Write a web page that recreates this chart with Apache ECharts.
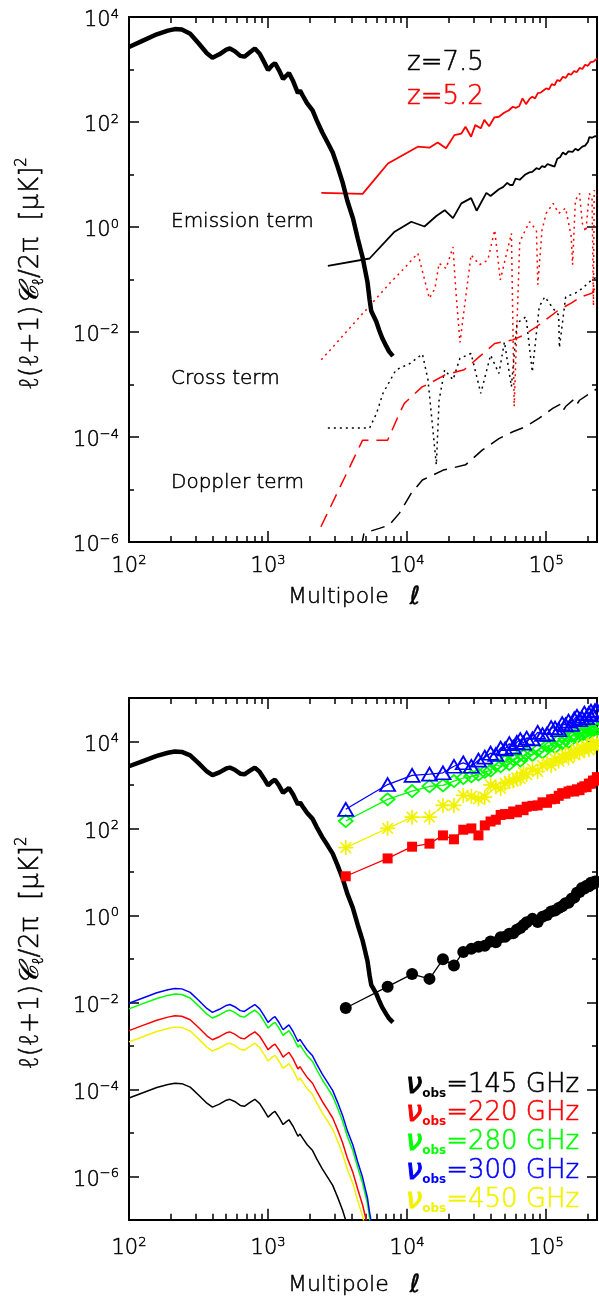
<!DOCTYPE html>
<html><head><meta charset="utf-8">
<script src="https://cdn.jsdelivr.net/npm/echarts@6/dist/echarts.min.js"></script>
<style>html,body{margin:0;padding:0;background:#fff}#c{width:599px;height:1299px}</style>
</head><body><div id="c"></div>
<script>
// ---------- DATA (x = log10 multipole, y = log10 of l(l+1)C_l/2pi in muK^2) ----------
const cmbL = [2.00,2.10,2.20,2.28,2.33,2.38,2.44,2.50,2.56,2.60,2.65,2.70,2.725,2.76,2.80,2.83,2.87,2.905,2.94,2.97,3.00,3.03,3.05,3.08,3.108,3.13,3.15,3.18,3.215,3.23,3.25,3.28,3.32,3.35,3.39,3.43,3.465,3.50,3.536,3.57,3.61,3.645,3.68,3.70,3.715,3.73,3.742,3.778,3.80,3.82,3.85,3.87,3.898];
const cmbC = [3.43,3.55,3.67,3.74,3.77,3.76,3.68,3.50,3.31,3.225,3.29,3.38,3.40,3.35,3.26,3.245,3.33,3.40,3.30,3.15,2.99,3.08,3.12,2.98,2.82,2.88,2.93,2.78,2.55,2.60,2.50,2.36,2.22,2.03,1.80,1.60,1.42,1.15,0.85,0.50,0.17,-0.22,-0.58,-0.85,-1.05,-1.38,-1.60,-1.80,-1.97,-2.11,-2.27,-2.37,-2.46];

const emis52L = [3.383,3.68,3.862,4.077,4.16,4.22,4.28,4.34,4.39,4.42,4.46,4.49,4.53,4.555,4.59,4.628,4.66,4.70,4.73,4.76,4.78,4.806,4.83,4.855,4.88,4.90,4.92,4.94,4.96,4.98,5.00,5.02,5.04,5.06,5.08,5.10,5.12,5.14,5.16,5.18,5.20,5.22,5.24,5.26,5.28,5.30,5.32,5.34,5.366];
const emis52C = [0.65,0.63,1.21,1.53,1.51,1.61,1.50,1.75,1.78,1.91,1.72,1.94,1.88,2.04,1.92,2.09,2.10,2.18,2.22,2.29,2.27,2.30,2.45,2.34,2.44,2.48,2.45,2.55,2.56,2.60,2.64,2.62,2.72,2.70,2.80,2.78,2.86,2.84,2.92,2.90,2.97,2.95,3.03,3.01,3.09,3.07,3.14,3.15,3.21];

const emis75L = [3.43,3.73,3.91,4.03,4.125,4.21,4.27,4.33,4.39,4.46,4.50,4.57,4.60,4.66,4.69,4.72,4.74,4.76,4.78,4.81,4.83,4.85,4.88,4.90,4.93,4.95,4.97,4.99,5.01,5.03,5.06,5.08,5.10,5.12,5.14,5.16,5.19,5.21,5.23,5.26,5.28,5.30,5.31,5.33,5.35,5.366];
const emis75C = [-0.74,-0.60,-0.09,0.10,0.01,0.21,0.32,0.17,0.45,0.55,0.31,0.65,0.59,0.72,0.76,0.84,0.80,0.80,0.92,0.90,0.95,1.00,1.04,1.05,1.12,1.10,1.16,1.14,1.20,1.18,1.15,1.30,1.33,1.42,1.38,1.44,1.43,1.49,1.46,1.53,1.55,1.62,1.71,1.70,1.73,1.72];

const cross52L = [3.383,3.886,3.957,4.077,4.16,4.20,4.23,4.28,4.33,4.35,4.38,4.46,4.52,4.58,4.63,4.67,4.75,4.77,4.81,4.88,4.93,4.94,4.97,5.00,5.05,5.09,5.14,5.18,5.19,5.21,5.24,5.26,5.285,5.31,5.33,5.34,5.345,5.366];
const cross52C = [-2.53,-1.04,-0.85,-0.50,-1.36,-1.17,-0.69,-0.79,-0.38,-1.20,-2.20,-0.53,-0.72,-0.63,-0.06,-1.01,-0.12,-3.42,-0.28,0.10,-0.06,-1.10,-0.06,0.26,0.45,0.26,0.36,-0.18,-0.72,0.51,0.64,0.07,-0.09,0.64,0.55,-1.50,0.70,0.60];

const cross75L = [3.43,3.73,3.78,3.826,3.92,4.02,4.11,4.15,4.21,4.23,4.27,4.33,4.38,4.46,4.53,4.60,4.66,4.70,4.75,4.79,4.855,4.90,4.95,4.99,5.05,5.09,5.095,5.14,5.21,5.26,5.33,5.366];
const cross75C = [-3.83,-3.83,-3.55,-3.17,-2.72,-2.60,-2.42,-2.91,-4.53,-3.30,-2.72,-2.91,-2.50,-2.41,-3.17,-2.44,-2.79,-2.19,-3.04,-1.83,-1.71,-2.76,-1.52,-1.33,-1.55,-1.68,-2.30,-1.33,-1.26,-1.17,-1.00,-0.95];

const dopp52L = [3.38,3.68,3.86,3.945,3.98,4.11,4.14,4.27,4.41,4.52,4.63,4.76,4.84,4.93,5.01,5.09,5.18,5.25,5.33,5.366];
const dopp52C = [-5.71,-4.06,-4.06,-3.55,-3.36,-3.04,-3.01,-2.82,-2.72,-2.47,-2.22,-2.15,-2.06,-1.90,-1.74,-1.58,-1.45,-1.33,-1.26,-1.10];

const dopp75L = [3.67,3.69,3.80,3.87,3.945,4.03,4.11,4.26,4.42,4.54,4.66,4.76,4.855,4.95,5.05,5.10,5.12,5.14,5.20,5.22,5.24,5.33,5.366];
const dopp75C = [-6.10,-5.83,-5.74,-5.68,-5.45,-5.07,-4.82,-4.63,-4.53,-4.25,-4.03,-3.90,-3.80,-3.64,-3.45,-3.38,-3.50,-3.42,-3.28,-3.38,-3.30,-3.14,-3.08];

// bottom panel: binned points (multipole values) and log10 band powers
const binEll = [3620,7240,10860,14480,18100,21720,25340,28960,32580,36200,39820,43440,47060,50680,54300,57920,61540,65160,68780,72400,79640,86880,94120,101360,108600,115840,123080,130320,137560,144800,152040,159280,166520,173760,181000,188240,195480,202720,209960,217200,224440,231680];
const pts145 = [-2.13,-1.64,-1.35,-1.46,-1.01,-1.15,-0.84,-0.77,-0.72,-0.70,-0.60,-0.62,-0.50,-0.49,-0.42,-0.41,-0.33,-0.29,-0.22,-0.16,-0.08,-0.15,-0.03,0.01,0.09,0.11,0.17,0.21,0.28,0.29,0.38,0.41,0.52,0.54,0.63,0.62,0.68,0.67,0.75,0.73,0.78,0.77];
const pts220 = [0.90,1.31,1.58,1.65,1.84,1.75,1.97,2.00,1.84,2.07,2.16,2.20,2.31,2.33,2.33,2.39,2.37,2.43,2.42,2.50,2.52,2.53,2.60,2.59,2.67,2.68,2.75,2.81,2.80,2.85,2.87,2.85,2.90,2.88,2.94,2.97,2.95,3.03,3.03,3.10,3.10,3.18];
const pts280 = [2.17,2.67,2.86,2.97,2.99,3.09,3.16,3.20,3.24,3.30,3.33,3.46,3.43,3.55,3.48,3.59,3.63,3.56,3.67,3.73,3.69,3.80,3.75,3.90,3.91,3.87,4.02,3.96,4.06,3.99,4.13,4.13,4.10,4.22,4.15,4.25,4.16,4.27,4.30,4.25,4.35,4.28];
const pts300 = [2.44,3.01,3.22,3.25,3.28,3.43,3.51,3.43,3.57,3.64,3.73,3.70,3.85,3.83,3.95,3.87,3.98,4.04,3.96,4.08,4.06,4.21,4.16,4.17,4.32,4.31,4.27,4.41,4.38,4.47,4.39,4.52,4.58,4.50,4.54,4.65,4.55,4.64,4.70,4.61,4.71,4.72];
const pts450 = [1.56,2.00,2.26,2.26,2.53,2.53,2.76,2.74,2.68,2.72,3.00,2.96,2.92,3.04,3.08,3.09,3.16,3.15,3.28,3.24,3.37,3.31,3.45,3.50,3.45,3.60,3.55,3.63,3.70,3.62,3.74,3.70,3.82,3.74,3.85,3.80,3.90,3.81,3.91,3.95,3.88,3.97];

// bottom panel thin curves (on the cmbL grid)
const thin145 = [-4.20,-4.08,-3.96,-3.89,-3.86,-3.87,-3.95,-4.13,-4.32,-4.41,-4.34,-4.25,-4.23,-4.28,-4.37,-4.39,-4.30,-4.23,-4.33,-4.48,-4.64,-4.55,-4.51,-4.65,-4.81,-4.75,-4.70,-4.85,-5.08,-5.03,-5.13,-5.27,-5.41,-5.60,-5.83,-6.03,-6.21,-6.48,-6.78,-7.13];
const thin220 = [-2.65,-2.53,-2.41,-2.34,-2.31,-2.32,-2.40,-2.58,-2.77,-2.86,-2.79,-2.70,-2.68,-2.73,-2.82,-2.84,-2.75,-2.68,-2.78,-2.93,-3.09,-3.00,-2.96,-3.10,-3.26,-3.20,-3.15,-3.30,-3.53,-3.48,-3.58,-3.72,-3.86,-4.05,-4.28,-4.48,-4.66,-4.93,-5.23,-5.58,-5.91,-6.30,-6.66,-6.93,-7.13];
const thin280 = [-2.15,-2.03,-1.91,-1.84,-1.81,-1.82,-1.90,-2.08,-2.27,-2.36,-2.29,-2.20,-2.18,-2.23,-2.32,-2.34,-2.25,-2.18,-2.28,-2.43,-2.59,-2.50,-2.46,-2.60,-2.76,-2.70,-2.65,-2.80,-3.03,-2.98,-3.08,-3.22,-3.36,-3.55,-3.78,-3.98,-4.16,-4.43,-4.73,-5.08,-5.41,-5.80,-6.16,-6.43,-6.63,-6.96,-7.18];
const thin300 = [-2.02,-1.90,-1.78,-1.71,-1.68,-1.69,-1.77,-1.95,-2.14,-2.23,-2.16,-2.07,-2.05,-2.10,-2.19,-2.21,-2.12,-2.05,-2.15,-2.30,-2.46,-2.37,-2.33,-2.47,-2.63,-2.57,-2.52,-2.67,-2.90,-2.85,-2.95,-3.09,-3.23,-3.42,-3.65,-3.85,-4.03,-4.30,-4.60,-4.95,-5.28,-5.67,-6.03,-6.30,-6.50,-6.83,-7.05];
const thin450 = [-2.91,-2.79,-2.67,-2.60,-2.57,-2.58,-2.66,-2.84,-3.03,-3.12,-3.05,-2.96,-2.94,-2.99,-3.08,-3.10,-3.01,-2.94,-3.04,-3.19,-3.35,-3.26,-3.22,-3.36,-3.52,-3.46,-3.41,-3.56,-3.79,-3.74,-3.84,-3.98,-4.12,-4.31,-4.54,-4.74,-4.92,-5.19,-5.49,-5.84,-6.17,-6.56,-6.92,-7.19];

// axes
const xMajor = [2,3,4,5];
const xMinorEll = [200,300,400,500,600,700,800,900,2000,3000,4000,5000,6000,7000,8000,9000,20000,30000,40000,50000,60000,70000,80000,90000,200000];
const topYMajor = [-6,-4,-2,0,2,4], topYMinor = [-5,-3,-1,1,3];
const botYMajor = [-6,-4,-2,0,2,4], botYMinor = [-7,-5,-3,-1,1,3,5];
const X_MIN = 2, X_MAX = Math.log10(232000);

// ---------- CHART ----------
const FONT = '"DejaVu Sans", "Noto Sans", sans-serif';
const FW = 200;
const xMinor = xMinorEll.map(v => Math.log10(v));
const zip = (xs, ys) => ys.map((y, i) => [xs[i], y]);

function expLabel(v) {
  if (Math.abs(v - Math.round(v)) > 1e-6) return '';
  const e = Math.round(v);
  return '{b|10}{s|' + (e < 0 ? '\u2212' + (-e) : e) + '}';
}
const tb = (c) => ({textBorderColor: c, textBorderWidth: 0.5});
const expRich = {
  b: Object.assign({fontSize: 21, fontFamily: FONT, fontWeight: FW, color: '#000', lineHeight: 26}, tb('#000')),
  s: Object.assign({fontSize: 13, fontFamily: FONT, fontWeight: FW, color: '#000', lineHeight: 11, verticalAlign: 'top'}, tb('#000'))
};
function ax(type, g, position, min, max, ticks, len, extra) {
  return Object.assign({
    type: 'value', gridIndex: g, position, min, max,
    axisLine: {show: true, onZero: false, lineStyle: {color: '#000', width: 2}},
    axisTick: {show: true, inside: true, length: len, customValues: ticks, lineStyle: {color: '#000', width: 1.5}},
    axisLabel: {show: false}, splitLine: {show: false}, minorTick: {show: false}
  }, extra || {});
}
const xName = {
  name: 'Multipole   {l|\u2113}', nameLocation: 'middle',
  nameTextStyle: Object.assign({fontSize: 22, fontFamily: FONT, fontWeight: FW, color: '#000', padding: [0, 18, 0, 0],
    rich: {l: Object.assign({fontSize: 25, fontFamily: FONT, fontStyle: 'italic', color: '#000'}, tb('#000'))}}, tb('#000'))
};
const yName = {
  name: '{t|\u2113(\u2113+1)}{c|\uD835\uDC9E}{sub|\u2113}{t|/2\u03C0  [\u03BCK]}{sup|2}', nameLocation: 'middle', nameRotate: 90, nameGap: 82,
  nameTextStyle: {color: '#000', padding: [0, 0, 0, 12], rich: {
    t: Object.assign({fontSize: 26, fontFamily: FONT, fontWeight: FW, color: '#000', lineHeight: 32}, tb('#000')),
    c: Object.assign({fontSize: 27, fontFamily: FONT, fontStyle: 'italic', fontWeight: FW, color: '#000', lineHeight: 32}, tb('#000')),
    sub: Object.assign({fontSize: 15, fontFamily: FONT, fontWeight: FW, color: '#000', lineHeight: 15, verticalAlign: 'bottom'}, tb('#000')),
    sup: Object.assign({fontSize: 15, fontFamily: FONT, fontWeight: FW, color: '#000', lineHeight: 15, verticalAlign: 'top'}, tb('#000'))
  }}
};
function xLabel(margin) {
  return {show: true, customValues: xMajor, formatter: expLabel, rich: expRich, margin};
}
function yLabel(vals) {
  return {show: true, customValues: vals, formatter: expLabel, rich: expRich, margin: 10, padding: [8, 0, 0, 0]};
}

const xAxis = [
  ax('x', 0, 'bottom', X_MIN, X_MAX, xMajor, 11, Object.assign({axisLabel: xLabel(12), nameGap: 43}, xName)),
  ax('x', 0, 'bottom', X_MIN, X_MAX, xMinor, 6),
  ax('x', 0, 'top', X_MIN, X_MAX, xMajor, 11),
  ax('x', 0, 'top', X_MIN, X_MAX, xMinor, 6),
  ax('x', 1, 'bottom', X_MIN, X_MAX, xMajor, 11, Object.assign({axisLabel: xLabel(16), nameGap: 53}, xName)),
  ax('x', 1, 'bottom', X_MIN, X_MAX, xMinor, 6),
  ax('x', 1, 'top', X_MIN, X_MAX, xMajor, 11),
  ax('x', 1, 'top', X_MIN, X_MAX, xMinor, 6)
];
const yAxis = [
  ax('y', 0, 'left', -6, 4, topYMajor, 10, Object.assign({axisLabel: yLabel(topYMajor)}, yName)),
  ax('y', 0, 'left', -6, 4, topYMinor, 5),
  ax('y', 0, 'right', -6, 4, topYMajor, 10),
  ax('y', 0, 'right', -6, 4, topYMinor, 5),
  ax('y', 1, 'left', -7, 5, botYMajor, 10, Object.assign({axisLabel: yLabel(botYMajor)}, yName)),
  ax('y', 1, 'left', -7, 5, botYMinor, 5),
  ax('y', 1, 'right', -7, 5, botYMajor, 10),
  ax('y', 1, 'right', -7, 5, botYMinor, 5)
];

function ln(data, g, color, width, type, z) {
  return {type: 'line', xAxisIndex: g * 4, yAxisIndex: g * 4, data, showSymbol: false, symbol: 'none',
    lineStyle: {color, width, type: type || 'solid'}, z: z || 2, silent: true, clip: true};
}
function mk(vals, color, symbol, size, itemStyle) {
  return {type: 'line', xAxisIndex: 4, yAxisIndex: 4, data: zip(binEll.map(v => Math.log10(v)), vals),
    symbol, symbolSize: size, showSymbol: true, showAllSymbol: true, lineStyle: {color, width: 1.3},
    itemStyle, z: 3, silent: true, clip: true};
}
const hollow = (c, w) => ({color: 'rgba(0,0,0,0)', borderColor: c, borderWidth: w || 1.8});
const asterisk = 'path://M12 0 L12 24 M0 12 L24 12 M3.5 3.5 L20.5 20.5 M3.5 20.5 L20.5 3.5';
const YEL = '#f2f200';

const series = [
  ln(zip(emis52L, emis52C), 0, '#ff0000', 1.8),
  ln(zip(emis75L, emis75C), 0, '#000000', 1.8),
  ln(zip(cross52L, cross52C), 0, '#ff0000', 1.5, [2, 4]),
  ln(zip(cross75L, cross75C), 0, '#000000', 1.5, [2, 4]),
  ln(zip(dopp52L, dopp52C), 0, '#ff0000', 1.5, [14, 8]),
  ln(zip(dopp75L, dopp75C), 0, '#000000', 1.5, [14, 8]),
  ln(zip(cmbL, cmbC), 0, '#000000', 4.5, 'solid', 5),

  ln(zip(cmbL, thin145), 1, '#000000', 1.5),
  ln(zip(cmbL, thin220), 1, '#ff0000', 1.5),
  ln(zip(cmbL, thin280), 1, '#00ff00', 1.5),
  ln(zip(cmbL, thin300), 1, '#0000ff', 1.5),
  ln(zip(cmbL, thin450), 1, YEL, 1.5),
  ln(zip(cmbL, cmbC), 1, '#000000', 4.5, 'solid', 2),
  mk(pts145, '#000000', 'circle', 12, {color: '#000'}),
  mk(pts220, '#ff0000', 'rect', 10, {color: '#ff0000'}),
  mk(pts280, '#00ff00', 'diamond', [14, 12], hollow('#00ff00')),
  mk(pts300, '#0000ff', 'triangle', [15, 13], hollow('#0000ff')),
  mk(pts450, YEL, asterisk, 15, hollow(YEL, 1.7))
];

function txt(x, y, text, size, color) {
  return {type: 'text', x, y, silent: true, style: {text, fill: color, stroke: color, lineWidth: 0.5, fontSize: size, fontFamily: FONT, fontWeight: FW, verticalAlign: 'middle'}};
}
function legendTxt(y, freq, color) {
  return {type: 'text', x: 406, y, silent: true, style: {
    text: '{nu|\u03BD}{o|obs}{t|=' + freq + ' GHz}', verticalAlign: 'middle',
    rich: {
      nu: {fontSize: 29, fontFamily: FONT, fontStyle: 'italic', fill: color, stroke: color, lineWidth: 1, lineHeight: 30},
      o: {fontSize: 12, fontFamily: FONT, fontWeight: 'bold', fill: color, lineHeight: 12, verticalAlign: 'bottom'},
      t: {fontSize: 26, fontFamily: FONT, fontWeight: FW, fill: color, stroke: color, lineWidth: 0.5, lineHeight: 30}
    }}};
}
const graphic = [
  txt(407, 63, 'z=7.5', 26, '#000'),
  txt(407, 97, 'z=5.2', 26, '#ff0000'),
  txt(171, 222, 'Emission term', 20, '#000'),
  txt(171, 379, 'Cross term', 20, '#000'),
  txt(171, 483, 'Doppler term', 20, '#000'),
  legendTxt(1085, '145', '#000000'),
  legendTxt(1113, '220', '#ff0000'),
  legendTxt(1142, '280', '#00ff00'),
  legendTxt(1171, '300', '#0000ff'),
  legendTxt(1200, '450', YEL)
];

const chart = echarts.init(document.getElementById('c'), null, {renderer: 'canvas'});
chart.setOption({
  animation: false,
  backgroundColor: '#fff',
  grid: [
    {left: 129, top: 17, width: 468, height: 525},
    {left: 129, top: 698, width: 468, height: 525}
  ],
  xAxis, yAxis, series, graphic
});
</script></body></html>
